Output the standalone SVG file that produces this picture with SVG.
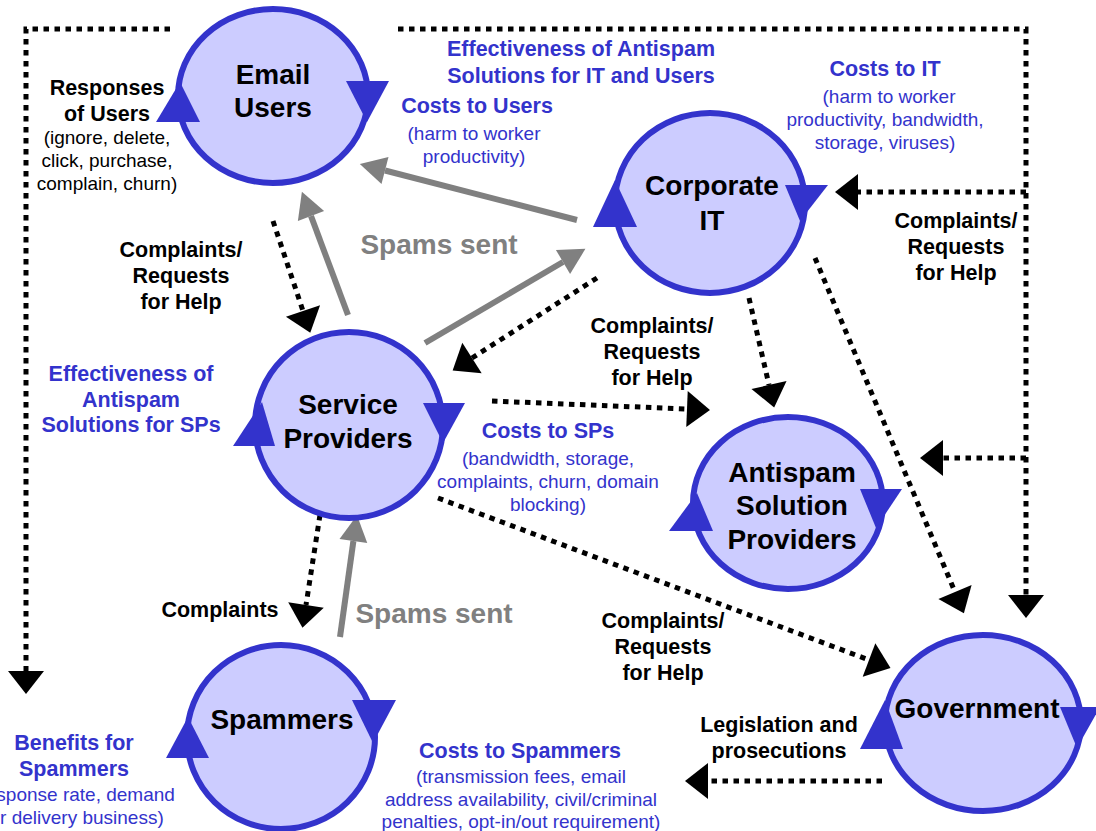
<svg xmlns="http://www.w3.org/2000/svg" width="1096" height="831" viewBox="0 0 1096 831">
  <defs>
    <style>
      .node ellipse { fill: #ccccff; stroke: #3333cc; stroke-width: 6; }
      .node polygon { fill: #3333cc; }
      text { font-family: "Liberation Sans", Arial, sans-serif; text-anchor: middle; }
      .nl { font-size: 28px; font-weight: bold; fill: #000; }
      .bl { font-size: 21.5px; font-weight: bold; fill: #000; }
      .bh { font-size: 21.5px; font-weight: bold; fill: #3333cc; }
      .rb { font-size: 19px; fill: #3333cc; }
      .rk { font-size: 19px; fill: #000; }
      .gs { font-size: 28px; font-weight: bold; fill: #808080; }
      .dot { fill: none; stroke: #000; stroke-width: 5; stroke-dasharray: 5.5 5.5; }
      .gray { fill: none; stroke: #808080; stroke-width: 6; }
    </style>
    <marker id="blackHead" markerUnits="userSpaceOnUse" markerWidth="23" markerHeight="36" refX="0" refY="18" orient="auto" overflow="visible">
      <path d="M0,0 L23,18 L0,36 Z" fill="#000"/>
    </marker>
    <marker id="grayHead" markerUnits="userSpaceOnUse" markerWidth="26" markerHeight="28" refX="0" refY="14" orient="auto" overflow="visible">
      <path d="M0,0 L26,14 L0,28 Z" fill="#808080"/>
    </marker>
  </defs>

  <!-- connectors -->
  <g id="connectors">
    <!-- feedback loops along the outer frame -->
    <path class="dot" d="M170,29 H26 V671" marker-end="url(#blackHead)"/>
    <path class="dot" d="M398,29 H1026 V595" marker-end="url(#blackHead)"/>
    <path class="dot" d="M1026,192 H858" marker-end="url(#blackHead)"/>
    <path class="dot" d="M1026,458 H943" marker-end="url(#blackHead)"/>
    <!-- complaints / requests for help -->
    <path class="dot" d="M815,258 L955,592" marker-end="url(#blackHead)"/>
    <path class="dot" d="M749,298 L769,385" marker-end="url(#blackHead)"/>
    <path class="dot" d="M597,278 L472,358" marker-end="url(#blackHead)"/>
    <path class="dot" d="M492,401 L687,409" marker-end="url(#blackHead)"/>
    <path class="dot" d="M273,221 L303,311" marker-end="url(#blackHead)"/>
    <path class="dot" d="M320,515 L306,605" marker-end="url(#blackHead)"/>
    <path class="dot" d="M438,498 L869,660" marker-end="url(#blackHead)"/>
    <path class="dot" d="M882,781 L708,781" marker-end="url(#blackHead)"/>
    <!-- spam flows -->
    <path class="gray" d="M425,343 L563,262" marker-end="url(#grayHead)"/>
    <path class="gray" d="M577,220 L385,170.5" marker-end="url(#grayHead)"/>
    <path class="gray" d="M348,315 L311,216" marker-end="url(#grayHead)"/>
    <path class="gray" d="M340,637 L353.4,541" marker-end="url(#grayHead)"/>
  </g>

  <!-- nodes -->
  <g id="email-users" class="node">
    <ellipse cx="273" cy="96" rx="95" ry="87"/>
    <polygon points="180,82 156,122 200,122"/>
    <polygon points="346,81 389,81 367,122"/>
    <text class="nl" x="273" y="84">Email</text>
    <text class="nl" x="273" y="117">Users</text>
  </g>

  <g id="corporate-it" class="node">
    <ellipse cx="710" cy="203" rx="95" ry="90"/>
    <polygon points="615,180 593,227 637,227"/>
    <polygon points="785,185 828,185 800,221"/>
    <text class="nl" x="712" y="195">Corporate</text>
    <text class="nl" x="712" y="230">IT</text>
  </g>

  <g id="service-providers" class="node">
    <ellipse cx="349" cy="425" rx="94" ry="93"/>
    <polygon points="262,402 233,446 275,446"/>
    <polygon points="423,403 465,403 443,443"/>
    <text class="nl" x="348" y="414">Service</text>
    <text class="nl" x="348" y="448">Providers</text>
  </g>

  <g id="antispam-solution-providers" class="node">
    <ellipse cx="788" cy="503" rx="95" ry="86"/>
    <polygon points="697,493 669,531 713,531"/>
    <polygon points="860,489 902,489 876,528"/>
    <text class="nl" x="792" y="482">Antispam</text>
    <text class="nl" x="792" y="515">Solution</text>
    <text class="nl" x="792" y="549">Providers</text>
  </g>

  <g id="government" class="node">
    <ellipse cx="983" cy="723" rx="98" ry="88"/>
    <polygon points="885,700 860,749 903,749"/>
    <text class="nl" x="977" y="718">Government</text>
    <polygon points="1060,707 1100,707 1077,748"/>
  </g>

  <g id="spammers" class="node">
    <ellipse cx="281" cy="737" rx="94" ry="92"/>
    <polygon points="188,717 166,758 209,758"/>
    <polygon points="352,700 396,700 373,743"/>
    <text class="nl" x="282" y="729">Spammers</text>
  </g>

  <!-- labels -->
  <g id="labels">
    <text class="bl" x="107" y="95">Responses</text>
    <text class="bl" x="107" y="121">of Users</text>
    <text class="rk" x="107" y="144">(ignore, delete,</text>
    <text class="rk" x="107" y="167">click, purchase,</text>
    <text class="rk" x="107" y="190">complain, churn)</text>

    <text class="bh" x="581" y="56">Effectiveness of Antispam</text>
    <text class="bh" x="581" y="83">Solutions for IT and Users</text>

    <text class="bh" x="477" y="113">Costs to Users</text>
    <text class="rb" x="474" y="140">(harm to worker</text>
    <text class="rb" x="474" y="163">productivity)</text>

    <text class="bh" x="885" y="76">Costs to IT</text>
    <text class="rb" x="889" y="103">(harm to worker</text>
    <text class="rb" x="885" y="126">productivity, bandwidth,</text>
    <text class="rb" x="885" y="149">storage, viruses)</text>

    <text class="bl" x="181" y="257">Complaints/</text>
    <text class="bl" x="181" y="283">Requests</text>
    <text class="bl" x="181" y="309">for Help</text>

    <text class="gs" x="439" y="254">Spams sent</text>

    <text class="bl" x="652" y="333">Complaints/</text>
    <text class="bl" x="652" y="359">Requests</text>
    <text class="bl" x="652" y="385">for Help</text>

    <text class="bl" x="956" y="228">Complaints/</text>
    <text class="bl" x="956" y="254">Requests</text>
    <text class="bl" x="956" y="280">for Help</text>

    <text class="bh" x="131" y="381">Effectiveness of</text>
    <text class="bh" x="131" y="407">Antispam</text>
    <text class="bh" x="131" y="432">Solutions for SPs</text>

    <text class="bh" x="548" y="438">Costs to SPs</text>
    <text class="rb" x="548" y="465">(bandwidth, storage,</text>
    <text class="rb" x="548" y="488">complaints, churn, domain</text>
    <text class="rb" x="548" y="511">blocking)</text>

    <text class="bl" x="220" y="617">Complaints</text>
    <text class="gs" x="434" y="623">Spams sent</text>

    <text class="bl" x="663" y="628">Complaints/</text>
    <text class="bl" x="663" y="654">Requests</text>
    <text class="bl" x="663" y="680">for Help</text>

    <text class="bl" x="779" y="732">Legislation and</text>
    <text class="bl" x="779" y="758">prosecutions</text>

    <text class="bh" x="74" y="750">Benefits for</text>
    <text class="bh" x="74" y="776">Spammers</text>
    <text class="rb" x="74" y="801">(response rate, demand</text>
    <text class="rb" x="74" y="824">for delivery business)</text>

    <text class="bh" x="520" y="758">Costs to Spammers</text>
    <text class="rb" x="521" y="783">(transmission fees, email</text>
    <text class="rb" x="521" y="806">address availability, civil/criminal</text>
    <text class="rb" x="521" y="828">penalties, opt-in/out requirement)</text>
  </g>
</svg>
